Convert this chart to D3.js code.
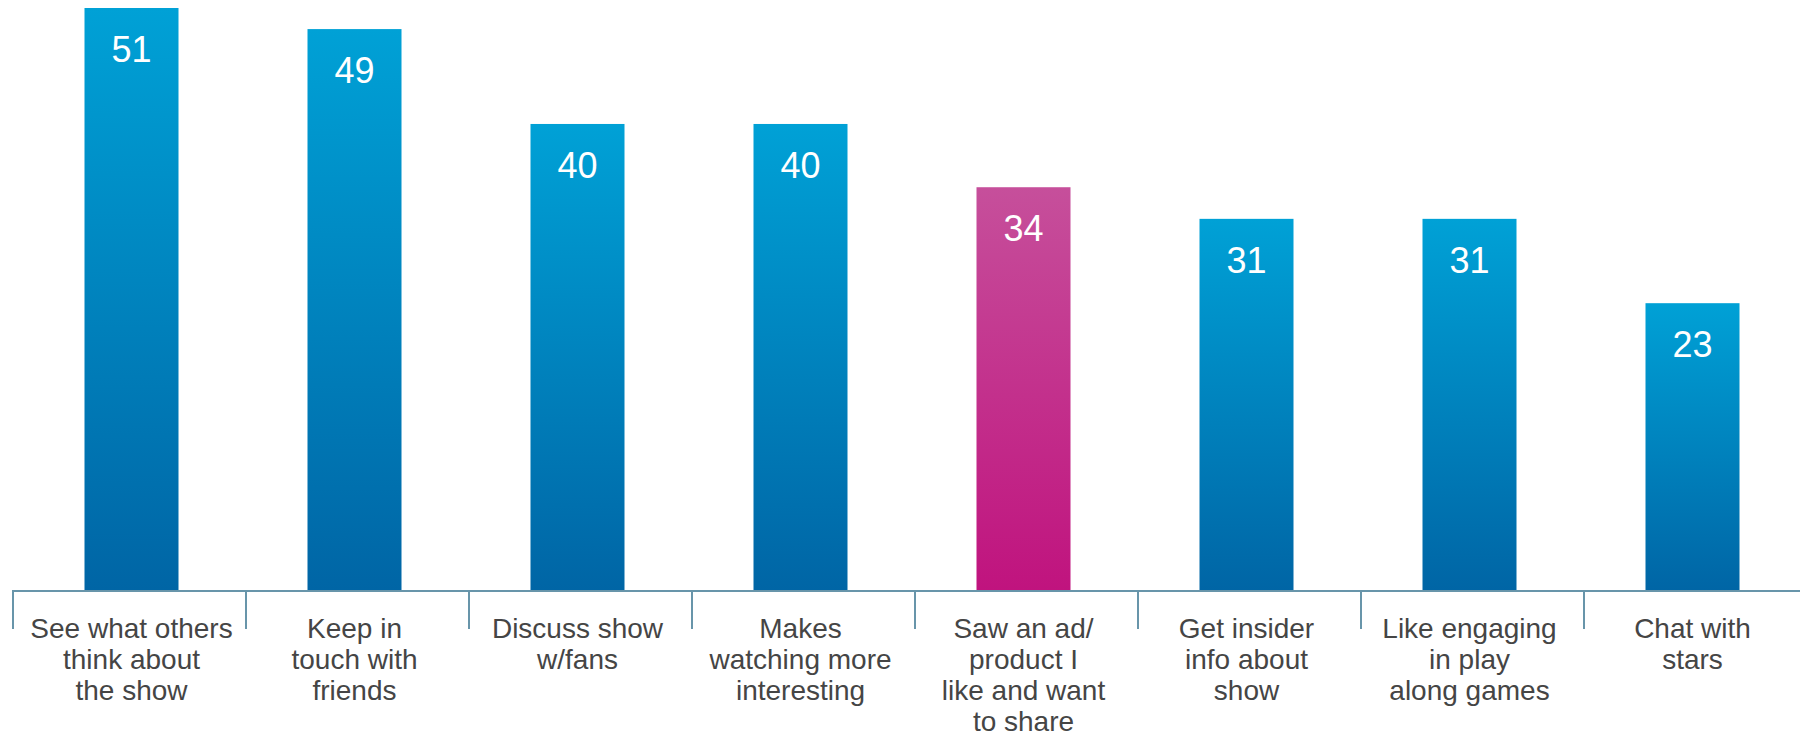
<!DOCTYPE html>
<html>
<head>
<meta charset="utf-8">
<script src="https://cdn.jsdelivr.net/npm/d3@7"></script>
<style>
  body { margin: 0; background: #fff; }
  svg { display: block; }
</style>
</head>
<body>
<script>
// reasons for using social media while watching TV (%)
var categories = [
	["See what others", "think about", "the show"],
	["Keep in", "touch with", "friends"],
	["Discuss show", "w/fans"],
	["Makes", "watching more", "interesting"],
	["Saw an ad/", "product I", "like and want", "to share"],
	["Get insider", "info about", "show"],
	["Like engaging", "in play", "along games"],
	["Chat with", "stars"]
];
var values = [51, 49, 40, 40, 34, 31, 31, 23];
var highlight = [false, false, false, false, true, false, false, false];

var width = 1800, height = 736;
var baseY = 591;
var axisLeft = 12;

var svg = d3.select("body").append("svg").attr("width", width).attr("height", height);

var defs = svg.append("defs");
var blue = defs.append("linearGradient").attr("id", "gBlue").attr("x1", 0).attr("y1", 0).attr("x2", 0).attr("y2", 1);
blue.append("stop").attr("offset", "0%").attr("stop-color", "#00a1d6");
blue.append("stop").attr("offset", "100%").attr("stop-color", "#0065a5");
var pink = defs.append("linearGradient").attr("id", "gPink").attr("x1", 0).attr("y1", 0).attr("x2", 0).attr("y2", 1);
pink.append("stop").attr("offset", "0%").attr("stop-color", "#c64f9b");
pink.append("stop").attr("offset", "100%").attr("stop-color", "#c0137e");

var x = d3.scaleBand().domain(d3.range(values.length)).range([20, 1804]);
var y = d3.scaleLinear().domain([-4.3, 51]).range([baseY, 8]);
var barW = 94;

function cx(i) { return x(i) + x.bandwidth() / 2; }

svg.selectAll("rect.bar").data(values).enter().append("rect")
	.attr("class", "bar")
	.attr("x", function (d, i) { return cx(i) - barW / 2; })
	.attr("y", function (d) { return y(d); })
	.attr("width", barW)
	.attr("height", function (d) { return baseY - y(d); })
	.style("fill", function (d, i) { return highlight[i] ? "url(#gPink)" : "url(#gBlue)"; });

svg.selectAll("text.val").data(values).enter().append("text")
	.attr("class", "val")
	.attr("x", function (d, i) { return cx(i); })
	.attr("y", function (d) { return y(d) + 54; })
	.attr("text-anchor", "middle")
	.style("font-family", "'Liberation Sans', Arial, sans-serif")
	.style("font-size", "36px")
	.style("fill", "#fff")
	.text(function (d) { return d; });

// axis line and ticks between categories
svg.append("line")
	.attr("x1", axisLeft).attr("x2", width).attr("y1", baseY).attr("y2", baseY)
	.style("stroke", "#6895aa").style("stroke-width", 2);

svg.selectAll("line.tick").data(d3.range(values.length)).enter().append("line")
	.attr("class", "tick")
	.attr("x1", function (i) { return i === 0 ? axisLeft + 1 : x(i) + 3; })
	.attr("x2", function (i) { return i === 0 ? axisLeft + 1 : x(i) + 3; })
	.attr("y1", baseY).attr("y2", 629)
	.style("stroke", "#6895aa").style("stroke-width", 2);

var labels = svg.selectAll("text.cat").data(categories).enter().append("text")
	.attr("class", "cat")
	.attr("text-anchor", "middle")
	.style("font-family", "'Liberation Sans', Arial, sans-serif")
	.style("font-size", "28px")
	.style("fill", "#454545");

labels.selectAll("tspan").data(function (d, i) { return d.map(function (t) { return { t: t, i: i }; }); })
	.enter().append("tspan")
	.attr("x", function (d) { return cx(d.i); })
	.attr("y", function (d, j) { return 638 + j * 31; })
	.text(function (d) { return d.t; });
</script>
</body>
</html>
